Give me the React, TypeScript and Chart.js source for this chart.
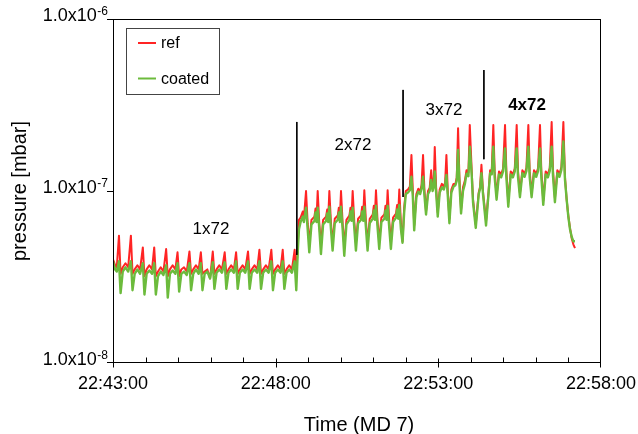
import React, { useEffect, useRef } from 'react';
import { Chart, registerables } from 'chart.js';

Chart.register(...registerables);

// Pressure values are stored in units of 1e-8 mbar; time in seconds after 22:43:00.
const PRESSURE_UNIT = 1e-8;

// 1x72 batch period
const oneBatchTime = [0, 4, 7, 11, 14, 18, 23, 28, 33, 36, 40, 45, 50, 55, 58, 62, 67, 72, 76, 79, 83, 88, 93, 98, 101, 105, 110, 115, 119, 122, 126, 131, 136, 141, 144, 148, 153, 158, 162, 165, 169, 174, 179, 184, 187, 191, 196, 201, 206, 209, 213, 218, 223, 227, 230, 234, 239, 244, 249, 252, 256, 261, 266, 270, 273, 277, 282, 287, 292, 295, 299, 304, 309, 313, 316, 320, 325, 330, 335, 338];
const oneBatchRef = [4.0, 3.7, 3.6, 5.5, 3.3, 3.6, 3.8, 3.6, 5.5, 3.3, 3.5, 3.7, 3.5, 4.7, 3.2, 3.5, 3.7, 3.5, 4.7, 3.2, 3.4, 3.6, 3.4, 4.6, 3.2, 3.5, 3.7, 3.5, 4.4, 3.2, 3.5, 3.6, 3.4, 4.45, 3.3, 3.5, 3.7, 3.5, 4.4, 3.3, 3.4, 3.5, 3.1, 4.45, 3.3, 3.5, 3.7, 3.5, 4.4, 3.3, 3.5, 3.7, 3.5, 4.4, 3.3, 3.5, 3.7, 3.5, 4.45, 3.3, 3.5, 3.7, 3.5, 4.55, 3.3, 3.5, 3.7, 3.5, 4.55, 3.3, 3.5, 3.7, 3.5, 4.55, 3.3, 3.5, 3.7, 3.5, 4.55, 3.3];
const oneBatchCoated = [3.9, 3.5, 3.4, 3.9, 2.55, 3.4, 3.6, 3.4, 3.9, 2.65, 3.3, 3.5, 3.3, 3.8, 2.5, 3.3, 3.45, 3.3, 3.8, 2.5, 3.2, 3.4, 3.25, 3.7, 2.4, 3.3, 3.45, 3.3, 3.8, 2.6, 3.3, 3.4, 3.25, 3.8, 2.65, 3.3, 3.5, 3.3, 3.8, 2.65, 3.3, 3.4, 3.1, 3.85, 2.7, 3.35, 3.5, 3.35, 3.85, 2.7, 3.35, 3.5, 3.35, 3.9, 2.7, 3.35, 3.5, 3.35, 3.9, 2.7, 3.35, 3.5, 3.35, 3.9, 2.7, 3.35, 3.5, 3.35, 3.9, 2.65, 3.35, 3.5, 3.35, 3.9, 2.7, 3.35, 3.5, 3.35, 3.9, 2.65];

// 2x72 batch period
const twoBatchTime = [341, 343, 346, 350, 352, 356, 359, 362, 366, 371.5, 373.5, 375.5, 377.5, 380.5, 383.5, 387.5, 393, 395, 397, 399, 402, 405, 409, 414.5, 416.5, 418.5, 420.5, 423.5, 426.5, 430.5, 436, 438, 440, 442, 445, 448, 452, 457.5, 459.5, 461.5, 463.5, 466.5, 469.5, 473.5, 479, 481, 483, 485, 488, 491, 495, 500.5, 502.5, 504.5, 506.5, 509.5, 512.5, 516.5, 522, 524, 526, 528, 531];
const twoBatchRef = [5.0, 6.8, 7.0, 7.6, 6.9, 10.0, 6.5, 5.0, 6.8, 7.1, 7.9, 7.0, 10.0, 6.4, 4.9, 6.8, 7.1, 7.8, 7.0, 10.0, 6.5, 5.0, 6.9, 7.2, 8.0, 7.0, 10.0, 6.5, 4.8, 6.8, 7.2, 8.0, 7.1, 10.0, 6.6, 5.0, 6.9, 7.2, 8.1, 7.1, 10.1, 6.6, 5.0, 6.9, 7.3, 8.2, 7.2, 10.1, 6.6, 5.1, 7.0, 7.3, 8.2, 7.2, 10.1, 6.6, 5.1, 7.0, 7.4, 8.3, 7.3, 10.2, 6.5];
const twoBatchCoated = [4.6, 6.0, 6.6, 7.1, 6.6, 8.0, 6.0, 4.4, 6.4, 6.7, 7.5, 6.6, 8.0, 6.0, 4.3, 6.4, 6.7, 7.4, 6.6, 8.1, 6.0, 4.5, 6.5, 6.8, 7.5, 6.6, 8.1, 6.0, 4.2, 6.4, 6.8, 7.6, 6.7, 8.0, 6.1, 4.5, 6.5, 6.8, 7.6, 6.7, 8.1, 6.1, 4.5, 6.5, 6.9, 7.7, 6.8, 8.2, 6.1, 4.6, 6.6, 6.9, 7.7, 6.8, 8.2, 6.1, 4.6, 6.6, 7.0, 7.8, 6.9, 8.3, 6.0];

// 3x72 batch period
const threeBatchTime = [534, 537, 540, 544, 547.5, 550.4, 553, 555.5, 559.5, 563, 566.5, 569, 571.8, 574.3, 577.3, 581, 584, 586.8, 589.5, 591.5, 593.4, 595.9, 598.9, 602.5, 606.5, 610, 612.5, 614.9, 617.4, 620.4, 624, 628, 631.5, 634, 636.4, 638.9, 641.9, 645.5, 649, 652, 655.5, 658, 661.5, 664, 669, 674.5, 677, 679.5, 682.5, 688, 692.5, 695.5, 698.5];
const threeBatchRef = [5.1, 8.0, 10.0, 10.2, 10.6, 16.2, 10.0, 6.3, 9.6, 10.3, 10.0, 10.8, 16.2, 10.2, 7.6, 10.0, 10.4, 13.2, 10.3, 11.0, 18.0, 10.5, 7.5, 10.2, 11.0, 10.6, 11.2, 16.2, 10.0, 6.9, 10.2, 11.0, 11.0, 12.0, 23.2, 12.0, 7.8, 10.5, 11.5, 13.2, 12.8, 24.2, 13.2, 8.9, 6.4, 9.8, 10.6, 14.2, 9.8, 6.7, 9.8, 13.2, 13.0];
const threeBatchCoated = [5.0, 7.5, 9.6, 9.8, 10.1, 12.1, 9.2, 5.9, 9.2, 9.9, 9.6, 10.3, 12.1, 9.5, 7.3, 9.6, 10.0, 11.6, 10.0, 10.6, 13.0, 9.8, 7.1, 9.8, 10.5, 10.2, 10.8, 12.4, 9.4, 6.5, 9.8, 10.6, 10.8, 11.5, 17.3, 11.0, 7.4, 10.0, 11.0, 12.6, 12.2, 18.1, 12.5, 8.6, 6.1, 9.6, 10.3, 12.7, 9.5, 6.3, 9.6, 12.7, 12.5];

// 4x72 batch period and final decay
const fourBatchTime = [701.4, 703.9, 707.4, 711.9, 715.9, 719.4, 723, 725.5, 729, 733.5, 737.5, 741, 744.5, 747, 750.5, 755, 759, 762.5, 766, 768.5, 772, 776.5, 780.5, 784, 787.5, 790, 793.5, 798, 802, 805.5, 809, 811.5, 815, 819.5, 823.5, 827, 830.6, 833.6, 836.7, 839.7, 842.8, 846, 849, 852];
const fourBatchRef = [24.2, 13.0, 9.4, 13.0, 12.5, 13.5, 24.2, 13.0, 8.6, 13.0, 12.5, 13.5, 24.2, 13.0, 9.7, 13.2, 12.6, 13.6, 24.2, 13.0, 9.7, 13.2, 12.6, 13.6, 24.2, 13.0, 8.8, 13.0, 12.5, 13.6, 25.2, 13.2, 9.1, 13.2, 12.6, 13.8, 25.2, 12.0, 8.9, 7.2, 6.1, 5.3, 4.9, 4.66];
const fourBatchCoated = [18.1, 12.0, 8.9, 12.5, 12.0, 13.0, 17.7, 12.0, 8.1, 12.5, 12.0, 13.0, 17.7, 12.0, 9.2, 12.7, 12.1, 13.1, 18.1, 12.0, 9.2, 12.7, 12.1, 13.1, 17.7, 12.0, 8.3, 12.5, 12.0, 13.1, 18.1, 12.2, 8.6, 12.7, 12.1, 13.3, 19.4, 11.6, 8.9, 7.1, 6.0, 5.4, 5.1, 5.1];

// Axis ticks
const xMajorTicks = [0, 300, 600, 900];
const xMajorLabels = ['22:43:00', '22:48:00', '22:53:00', '22:58:00'];
const xMinorTicks = [60, 120, 180, 240, 360, 420, 480, 540, 660, 720, 780, 840];
const yTicks = [1e-8, 1e-7, 1e-6];
const yTickMantissa = '1.0x10';
const yTickExponents = ['-8', '-7', '-6'];

// Fill annotations
const fillLabels = ['1x72', '2x72', '3x72', '4x72'];
const fillLabelTimes = [180.7, 442.6, 610.5, 763.6];
const fillLabelPressures = [6.0e-8, 1.84e-7, 2.96e-7, 3.16e-7];
const fillLabelBold = [false, false, false, true];
const fillMarkerTimes = [339, 535, 684];
const fillMarkerTops = [2.52e-7, 3.87e-7, 5.05e-7];
const fillMarkerBottoms = [4.25e-8, 9.23e-8, 1.53e-7];

const seriesNames = ['ref', 'coated'];
const RED = '#ff2424';
const GREEN = '#6cbb3c';
const FONT = '"Liberation Sans", Arial, Helvetica, sans-serif';

const decorPlugin = {
  id: 'decor',
  afterDraw(chart: any) {
    const { ctx, chartArea: a, scales } = chart;
    const xs = scales.x;
    const ys = scales.y;
    ctx.save();
    ctx.strokeStyle = '#000';
    ctx.lineWidth = 1;
    // frame
    ctx.strokeRect(a.left + 0.5, a.top + 0.5, a.right - a.left - 1, a.bottom - a.top - 1);
    const bottom = a.bottom - 0.5;
    // x ticks
    ctx.beginPath();
    xMajorTicks.forEach((t) => {
      const px = Math.min(Math.round(xs.getPixelForValue(t)), a.right - 1) + 0.5;
      ctx.moveTo(px, bottom - 4);
      ctx.lineTo(px, bottom + 5);
    });
    xMinorTicks.forEach((t) => {
      const px = Math.round(xs.getPixelForValue(t)) + 0.5;
      ctx.moveTo(px, bottom - 5);
      ctx.lineTo(px, bottom);
    });
    yTicks.forEach((v) => {
      const py = Math.min(Math.round(ys.getPixelForValue(v)), a.bottom - 1) + 0.5;
      ctx.moveTo(a.left - 6, py);
      ctx.lineTo(a.left + 0.5, py);
    });
    ctx.stroke();

    // x tick labels
    ctx.fillStyle = '#000';
    ctx.font = `18px ${FONT}`;
    ctx.textAlign = 'center';
    ctx.textBaseline = 'middle';
    xMajorTicks.forEach((t, i) => {
      ctx.fillText(xMajorLabels[i], xs.getPixelForValue(t), a.bottom + 21);
    });

    // y tick labels with superscript exponent
    yTicks.forEach((v, i) => {
      const py = ys.getPixelForValue(v) - 3;
      ctx.font = `12px ${FONT}`;
      const supW = ctx.measureText(yTickExponents[i]).width;
      const right = a.left - 5;
      ctx.textAlign = 'left';
      ctx.textBaseline = 'alphabetic';
      ctx.fillText(yTickExponents[i], right - supW, py - 1);
      ctx.font = `18px ${FONT}`;
      ctx.textAlign = 'right';
      ctx.textBaseline = 'middle';
      ctx.fillText(yTickMantissa, right - supW - 0.5, py);
    });

    // axis titles
    ctx.font = `20px ${FONT}`;
    ctx.textAlign = 'center';
    ctx.textBaseline = 'middle';
    ctx.fillText('Time (MD 7)', (a.left + a.right) / 2 + 2, a.bottom + 62);
    ctx.save();
    ctx.translate(20, (a.top + a.bottom) / 2);
    ctx.rotate(-Math.PI / 2);
    ctx.fillText('pressure [mbar]', 0, 0);
    ctx.restore();

    // batch labels
    fillLabels.forEach((s, i) => {
      ctx.font = `${fillLabelBold[i] ? 'bold ' : ''}17px ${FONT}`;
      ctx.fillText(s, xs.getPixelForValue(fillLabelTimes[i]), ys.getPixelForValue(fillLabelPressures[i]));
    });

    // legend
    const lx = a.left + 13;
    const ly = a.top + 9;
    ctx.fillStyle = '#fff';
    ctx.fillRect(lx, ly, 93, 66);
    ctx.strokeStyle = '#444';
    ctx.strokeRect(lx + 0.5, ly + 0.5, 93, 66);
    const colors = [RED, GREEN];
    seriesNames.forEach((name, i) => {
      const y = ly + 15 + i * 35.5;
      ctx.strokeStyle = colors[i];
      ctx.lineWidth = 2;
      ctx.beginPath();
      ctx.moveTo(lx + 12, y);
      ctx.lineTo(lx + 30, y);
      ctx.stroke();
      ctx.fillStyle = '#000';
      ctx.font = `16px ${FONT}`;
      ctx.textAlign = 'left';
      ctx.textBaseline = 'middle';
      ctx.fillText(name, lx + 35, y + 1);
    });
    ctx.restore();
  },
};

export default function App() {
  const canvasRef = useRef<HTMLCanvasElement>(null);

  useEffect(() => {
    document.body.style.margin = '0';
    const canvas = canvasRef.current;
    if (!canvas) return;
    const timeSec = [...oneBatchTime, ...twoBatchTime, ...threeBatchTime, ...fourBatchTime];
    const refValues = [...oneBatchRef, ...twoBatchRef, ...threeBatchRef, ...fourBatchRef];
    const coatedValues = [...oneBatchCoated, ...twoBatchCoated, ...threeBatchCoated, ...fourBatchCoated];
    const refData = timeSec.map((t, i) => ({ x: t, y: refValues[i] * PRESSURE_UNIT }));
    const coatedData = timeSec.map((t, i) => ({ x: t, y: coatedValues[i] * PRESSURE_UNIT }));
    const markerSets = fillMarkerTimes.map((t, i) => ({
      label: 'marker' + i,
      data: [
        { x: t, y: fillMarkerTops[i] },
        { x: t, y: fillMarkerBottoms[i] },
      ],
      borderColor: '#000',
      borderWidth: 1,
      pointRadius: 0,
      order: 0,
    }));

    const chart = new Chart(canvas, {
      type: 'line',
      data: {
        datasets: [
          ...markerSets,
          { label: seriesNames[1], data: coatedData, borderColor: GREEN, borderWidth: 2.4, pointRadius: 0, order: 1 },
          { label: seriesNames[0], data: refData, borderColor: RED, borderWidth: 2, pointRadius: 0, order: 2 },
        ],
      },
      options: {
        responsive: false,
        animation: false,
        devicePixelRatio: 1,
        layout: { padding: { left: 113, right: 37, top: 19, bottom: 71 } },
        elements: { line: { tension: 0, borderJoinStyle: 'round' }, point: { radius: 0 } },
        scales: {
          x: { type: 'linear', min: 0, max: 900, display: false },
          y: { type: 'logarithmic', min: 1e-8, max: 1e-6, display: false },
        },
        plugins: { legend: { display: false }, tooltip: { enabled: false }, title: { display: false } },
      },
      plugins: [decorPlugin],
    } as any);
    return () => chart.destroy();
  }, []);

  return (
    <canvas
      ref={canvasRef}
      width={638}
      height={434}
      style={{ display: 'block', width: '638px', height: '434px' }}
    />
  );
}
